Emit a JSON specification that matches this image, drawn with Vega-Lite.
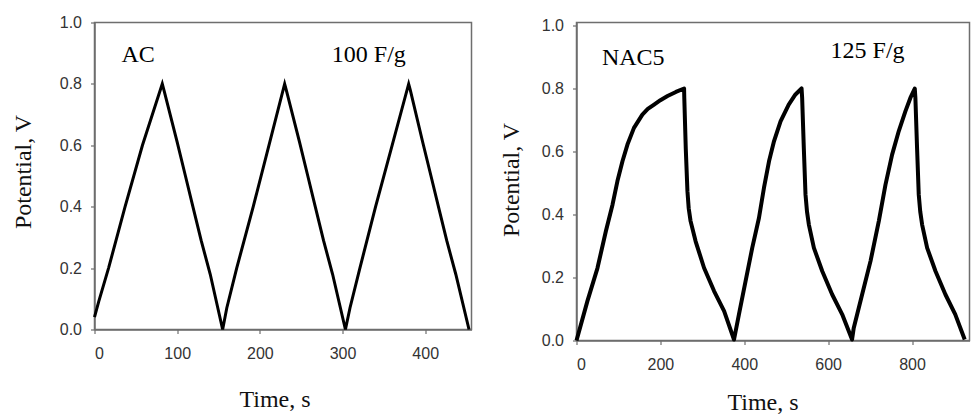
{
  "$schema": "https://vega.github.io/schema/vega-lite/v6.json",
  "background": "white",
  "padding": {"left": 10.5, "top": 13.5, "right": 5, "bottom": 2},
  "bounds": "flush",
  "spacing": 105,
  "config": {
    "view": {"stroke": "#6e6e6e", "strokeWidth": 1.5},
    "axis": {
      "grid": false,
      "domainColor": "#6e6e6e",
      "domainWidth": 1.5,
      "tickColor": "#6e6e6e",
      "tickSize": 4,
      "tickWidth": 1.2,
      "labelFont": "Liberation Sans",
      "labelFontSize": 16,
      "labelColor": "#333333",
      "titleFont": "Liberation Serif",
      "titleFontSize": 24,
      "titleFontWeight": "normal",
      "titleColor": "#111111"
    }
  },
  "datasets": {
    "ac": [
      {"t": 0, "v": 0.04}, {"t": 5, "v": 0.09}, {"t": 17, "v": 0.2}, {"t": 37, "v": 0.4}, {"t": 58, "v": 0.6}, {"t": 82, "v": 0.8},
      {"t": 84, "v": 0.78}, {"t": 100, "v": 0.61}, {"t": 110, "v": 0.5}, {"t": 119, "v": 0.4}, {"t": 129, "v": 0.29}, {"t": 140, "v": 0.18}, {"t": 155, "v": 0.0},
      {"t": 160, "v": 0.07}, {"t": 172, "v": 0.2}, {"t": 192, "v": 0.4}, {"t": 211, "v": 0.6}, {"t": 230, "v": 0.8},
      {"t": 232, "v": 0.78}, {"t": 248, "v": 0.61}, {"t": 258, "v": 0.5}, {"t": 267, "v": 0.4}, {"t": 277, "v": 0.29}, {"t": 288, "v": 0.18}, {"t": 303.5, "v": 0.0},
      {"t": 309, "v": 0.07}, {"t": 321, "v": 0.2}, {"t": 340, "v": 0.4}, {"t": 360, "v": 0.6}, {"t": 380, "v": 0.8},
      {"t": 382, "v": 0.78}, {"t": 397, "v": 0.61}, {"t": 407, "v": 0.5}, {"t": 416, "v": 0.4}, {"t": 426, "v": 0.29}, {"t": 437, "v": 0.18}, {"t": 453, "v": 0.0}
    ],
    "nac": [
      {"t": 0, "v": 0.0}, {"t": 26, "v": 0.125}, {"t": 50, "v": 0.23}, {"t": 70, "v": 0.347}, {"t": 86, "v": 0.432}, {"t": 97.6, "v": 0.506},
      {"t": 109.6, "v": 0.569}, {"t": 121.5, "v": 0.622}, {"t": 137, "v": 0.675}, {"t": 157, "v": 0.717}, {"t": 170, "v": 0.735}, {"t": 185, "v": 0.749}, {"t": 200, "v": 0.763}, {"t": 217, "v": 0.776}, {"t": 237, "v": 0.789}, {"t": 256.5, "v": 0.8},
      {"t": 257, "v": 0.77}, {"t": 260.5, "v": 0.61}, {"t": 264.5, "v": 0.474}, {"t": 267.5, "v": 0.42}, {"t": 272, "v": 0.379}, {"t": 284, "v": 0.315}, {"t": 304, "v": 0.231},
      {"t": 328, "v": 0.157}, {"t": 352, "v": 0.093}, {"t": 375.5, "v": 0.003},
      {"t": 387.3, "v": 0.083}, {"t": 403, "v": 0.188}, {"t": 419, "v": 0.294}, {"t": 435, "v": 0.389}, {"t": 447, "v": 0.485}, {"t": 459, "v": 0.569},
      {"t": 471, "v": 0.633}, {"t": 486.5, "v": 0.696}, {"t": 506, "v": 0.749}, {"t": 522, "v": 0.781}, {"t": 536.6, "v": 0.8},
      {"t": 538, "v": 0.77}, {"t": 542, "v": 0.61}, {"t": 546, "v": 0.463}, {"t": 549.5, "v": 0.41}, {"t": 554, "v": 0.368}, {"t": 566, "v": 0.294}, {"t": 586, "v": 0.22},
      {"t": 609.6, "v": 0.146}, {"t": 633.4, "v": 0.083}, {"t": 657, "v": 0.003},
      {"t": 661, "v": 0.04}, {"t": 681, "v": 0.146}, {"t": 701, "v": 0.252}, {"t": 720.8, "v": 0.379}, {"t": 736.7, "v": 0.495}, {"t": 752.5, "v": 0.59},
      {"t": 768.4, "v": 0.665}, {"t": 784.3, "v": 0.728}, {"t": 796, "v": 0.77}, {"t": 806.5, "v": 0.8},
      {"t": 808, "v": 0.77}, {"t": 812, "v": 0.61}, {"t": 816, "v": 0.463}, {"t": 819.5, "v": 0.41}, {"t": 824, "v": 0.368}, {"t": 836, "v": 0.294}, {"t": 856, "v": 0.22},
      {"t": 879.6, "v": 0.146}, {"t": 903, "v": 0.083}, {"t": 925.6, "v": 0.003}
    ],
    "acLabels": [
      {"t": 32.6, "v": 0.87, "label": "AC"},
      {"t": 287, "v": 0.87, "label": "100 F/g"}
    ],
    "nacLabels": [
      {"t": 60.5, "v": 0.873, "label": "NAC5"},
      {"t": 605.7, "v": 0.897, "label": "125 F/g"}
    ]
  },
  "hconcat": [
    {
      "width": 377,
      "height": 307,
      "layer": [
        {
          "data": {"name": "ac"},
          "mark": {"type": "line", "color": "black", "strokeWidth": 3},
          "encoding": {
            "x": {
              "field": "t", "type": "quantitative",
              "scale": {"domain": [0, 456], "nice": false, "zero": false},
              "axis": {"values": [0, 100, 200, 300, 400], "title": "Time, s", "labelPadding": 12, "titleX": 180, "titleY": 77, "titleBaseline": "alphabetic"}
            },
            "y": {
              "field": "v", "type": "quantitative",
              "scale": {"domain": [0, 1], "nice": false},
              "axis": {"values": [0, 0.2, 0.4, 0.6, 0.8, 1.0], "format": ".1f", "title": "Potential, V", "labelPadding": 9, "titleX": -71, "titleY": 149, "titleBaseline": "middle"}
            }
          }
        },
        {
          "data": {"name": "acLabels"},
          "mark": {"type": "text", "font": "Liberation Serif", "fontSize": 24, "color": "black", "align": "left", "baseline": "alphabetic"},
          "encoding": {
            "x": {"field": "t", "type": "quantitative"},
            "y": {"field": "v", "type": "quantitative"},
            "text": {"field": "label"}
          }
        }
      ]
    },
    {
      "width": 393,
      "height": 318,
      "layer": [
        {
          "data": {"name": "nac"},
          "mark": {"type": "line", "color": "black", "strokeWidth": 4, "strokeJoin": "round"},
          "encoding": {
            "x": {
              "field": "t", "type": "quantitative",
              "scale": {"domain": [0, 937], "nice": false, "zero": false},
              "axis": {"values": [0, 200, 400, 600, 800], "title": "Time, s", "labelPadding": 12, "titleX": 186, "titleY": 69, "titleBaseline": "alphabetic"}
            },
            "y": {
              "field": "v", "type": "quantitative",
              "scale": {"domain": [0, 1.0095], "nice": false},
              "axis": {"values": [0, 0.2, 0.4, 0.6, 0.8, 1.0], "format": ".1f", "title": "Potential, V", "labelPadding": 9, "titleX": -65, "titleY": 157, "titleBaseline": "middle"}
            }
          }
        },
        {
          "data": {"name": "nacLabels"},
          "mark": {"type": "text", "font": "Liberation Serif", "fontSize": 24, "color": "black", "align": "left", "baseline": "alphabetic"},
          "encoding": {
            "x": {"field": "t", "type": "quantitative"},
            "y": {"field": "v", "type": "quantitative"},
            "text": {"field": "label"}
          }
        }
      ]
    }
  ]
}
